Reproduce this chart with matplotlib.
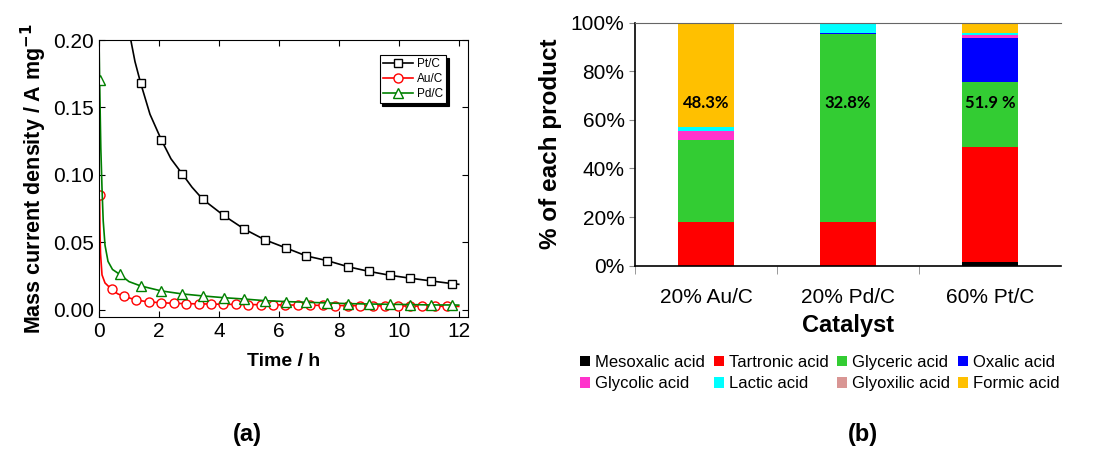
import matplotlib
matplotlib.use("Agg")
import matplotlib.pyplot as plt
from matplotlib.lines import Line2D
from matplotlib.patches import Patch
import numpy as np

plt.rcParams['font.family'] = ['Liberation Sans', 'DejaVu Sans']

# ---- (a) chronoamperometry: mass current density vs time ----
pt_t = [1.06, 1.2, 1.39, 1.7, 2.08, 2.4, 2.77, 3.1, 3.46, 4.16, 4.84, 5.53, 6.23,
        6.92, 7.62, 8.31, 9.0, 9.7, 10.39, 11.08, 11.78, 12.0]
pt_j = [0.200, 0.184, 0.168, 0.145, 0.126, 0.112, 0.101, 0.091, 0.082, 0.070, 0.060,
        0.052, 0.046, 0.040, 0.0365, 0.032, 0.0286, 0.0257, 0.0235, 0.0215, 0.0195, 0.019]
pt_marks = [2, 4, 6, 8, 9, 10, 11, 12, 13, 14, 15, 16, 17, 18, 19, 20]

au_t = [0.02, 0.03, 0.05, 0.1, 0.2, 0.42, 0.62, 0.83, 1.24, 1.66, 2.07, 2.49, 2.9,
        3.32, 3.73, 4.15, 4.56, 4.98, 5.39, 5.81, 6.22, 6.64, 7.05, 7.47, 7.88, 8.3,
        8.71, 9.13, 9.54, 9.96, 10.37, 10.79, 11.2, 11.62, 12.0]
au_j = [0.085, 0.060, 0.042, 0.026, 0.020, 0.0153, 0.012, 0.0101, 0.0074, 0.0059,
        0.0054, 0.0049, 0.0047, 0.0045, 0.0044, 0.0042, 0.0041, 0.0040, 0.0039, 0.0038,
        0.0037, 0.0036, 0.0035, 0.0034, 0.0033, 0.0032, 0.0032, 0.0031, 0.0030, 0.0030,
        0.0029, 0.0028, 0.0028, 0.0027, 0.0026]
au_marks = [0, 5, 7, 8, 9, 10, 11, 12, 13, 14, 15, 16, 17, 18, 19, 20, 21, 22, 23,
            24, 25, 26, 27, 28, 29, 30, 31, 32, 33]

pd_t = [0.0, 0.02, 0.06, 0.1, 0.14, 0.2, 0.3, 0.45, 0.69, 1.0, 1.39, 2.08, 2.77, 3.46,
        4.16, 4.84, 5.53, 6.23, 6.92, 7.62, 8.31, 9.0, 9.7, 10.39, 11.08, 11.78, 12.0]
pd_j = [0.2, 0.170, 0.12, 0.09, 0.066, 0.048, 0.036, 0.030, 0.0264, 0.021, 0.0178,
        0.0141, 0.0119, 0.0104, 0.0091, 0.0081, 0.0069, 0.0062, 0.0057, 0.0052, 0.0047,
        0.0044, 0.0042, 0.0040, 0.0037, 0.0037, 0.0036]
pd_marks = [1, 8, 10, 11, 12, 13, 14, 15, 16, 17, 18, 19, 20, 21, 22, 23, 24, 25]

# ---- (b) product distribution (%) ----
catalysts = ["20% Au/C", "20% Pd/C", "60% Pt/C"]
products = ["Mesoxalic acid", "Tartronic acid", "Glyceric acid", "Oxalic acid",
            "Glycolic acid", "Lactic acid", "Glyoxilic acid", "Formic acid"]
colors = ["#000000", "#FF0000", "#33CC33", "#0000FF",
          "#FF33CC", "#00FFFF", "#D99694", "#FFC000"]
shares = {
    "Mesoxalic acid": [0.0, 0.0, 1.4],
    "Tartronic acid": [18.1, 18.1, 47.4],
    "Glyceric acid": [33.8, 77.4, 26.8],
    "Oxalic acid": [0.0, 0.3, 18.2],
    "Glycolic acid": [3.5, 0.0, 1.1],
    "Lactic acid": [1.5, 4.2, 0.7],
    "Glyoxilic acid": [0.0, 0.0, 0.2],
    "Formic acid": [43.1, 0.0, 4.2],
}
bar_labels = ["48.3%", "32.8%", "51.9 %"]

fig = plt.figure(figsize=(11.15, 4.5), dpi=100)

# panel (a)
ax1 = fig.add_axes([0.0888, 0.2962, 0.3307, 0.6149])
ax1.plot(pt_t, pt_j, color="black", lw=1.2, marker="s", ms=6, mfc="white",
         mec="black", markevery=pt_marks, label="Pt/C")
ax1.plot(au_t, au_j, color="red", lw=1.2, marker="o", ms=6.5, mfc="white",
         mec="red", markevery=au_marks, label="Au/C")
ax1.plot(pd_t, pd_j, color="green", lw=1.2, marker="^", ms=7, mfc="white",
         mec="green", markevery=pd_marks, label="Pd/C")
ax1.set_xlim(0, 12.3)
ax1.set_ylim(-0.005, 0.2)
ax1.set_xticks(np.arange(0, 13, 2))
ax1.set_yticks([0.0, 0.05, 0.10, 0.15, 0.20])
ax1.set_yticklabels(["0.00", "0.05", "0.10", "0.15", "0.20"])
ax1.tick_params(direction="in", top=True, right=True, labelsize=15, length=4)
ax1.set_xlabel("Time / h", fontsize=14, fontweight="bold", labelpad=9)
ax1.set_ylabel("Mass current density / A mg$^{\\mathbf{-1}}$", fontsize=15.5,
               fontweight="bold", labelpad=3)
handles = [Line2D([], [], color=c, lw=1.2, marker=m, ms=ms, mfc="white", mec=c)
           for c, m, ms in [("black", "s", 6), ("red", "o", 6.5), ("green", "^", 7)]]
leg1 = ax1.legend(handles, ["Pt/C", "Au/C", "Pd/C"], loc="upper right",
                  bbox_to_anchor=(0.941, 0.946), borderaxespad=0, fontsize=8.5,
                  fancybox=False, edgecolor="black", framealpha=1, handlelength=2.6,
                  handletextpad=0.3, borderpad=0.25, labelspacing=0.25,
                  shadow={"color": "black", "alpha": 1})
leg1.get_frame().set_linewidth(0.8)

# panel (b)
ax2 = fig.add_axes([0.5695, 0.4096, 0.382, 0.54])
x = np.arange(len(catalysts))
bottom = np.zeros(len(catalysts))
for name, col in zip(products, colors):
    vals = np.array(shares[name])
    ax2.bar(x, vals, width=0.4, bottom=bottom, color=col, label=name, linewidth=0)
    bottom += vals
for xi, lab in zip(x, bar_labels):
    ax2.text(xi, 67, lab, ha="center", va="center", fontsize=12,
             fontweight="bold", family=["Lato", "DejaVu Sans"])
ax2.set_xlim(-0.5, 2.5)
ax2.set_ylim(0, 100)
ax2.set_yticks(np.arange(0, 101, 20))
ax2.set_yticklabels([f"{v}%" for v in range(0, 101, 20)])
ax2.set_xticks(x)
ax2.set_xticklabels(catalysts)
ax2.set_xticks([-0.5, 0.5, 1.5], minor=True)
ax2.tick_params(axis="x", which="major", length=0, labelsize=15, pad=16)
ax2.tick_params(axis="x", which="minor", length=6, color="#888888", direction="out")
ax2.tick_params(axis="y", labelsize=15, length=4, color="#888888")
ax2.spines["right"].set_visible(False)
ax2.spines["top"].set_color("#666666")
ax2.spines["left"].set_linewidth(1.2)
ax2.spines["bottom"].set_linewidth(1.2)
ax2.set_xlabel("Catalyst", fontsize=17, fontweight="bold", labelpad=5)
ax2.set_ylabel("% of each product", fontsize=17.5, fontweight="bold", labelpad=6)

# legend laid out row-wise (matplotlib fills columns first)
order = [0, 4, 1, 5, 2, 6, 3, 7]
patches = [Patch(facecolor=colors[i], edgecolor="none") for i in order]
fig.legend(patches, [products[i] for i in order], ncol=4, loc="center",
           bbox_to_anchor=(820 / 1115, 1 - 373 / 450), frameon=False, fontsize=12,
           handlelength=0.6, handleheight=0.6, handletextpad=0.3, columnspacing=0.5,
           labelspacing=0.4)

fig.text(247 / 1115, 1 - 435 / 450, "(a)", ha="center", va="center",
         fontsize=17, fontweight="bold")
fig.text(863 / 1115, 1 - 435 / 450, "(b)", ha="center", va="center",
         fontsize=17, fontweight="bold")

fig.savefig("out.png", dpi=100)
